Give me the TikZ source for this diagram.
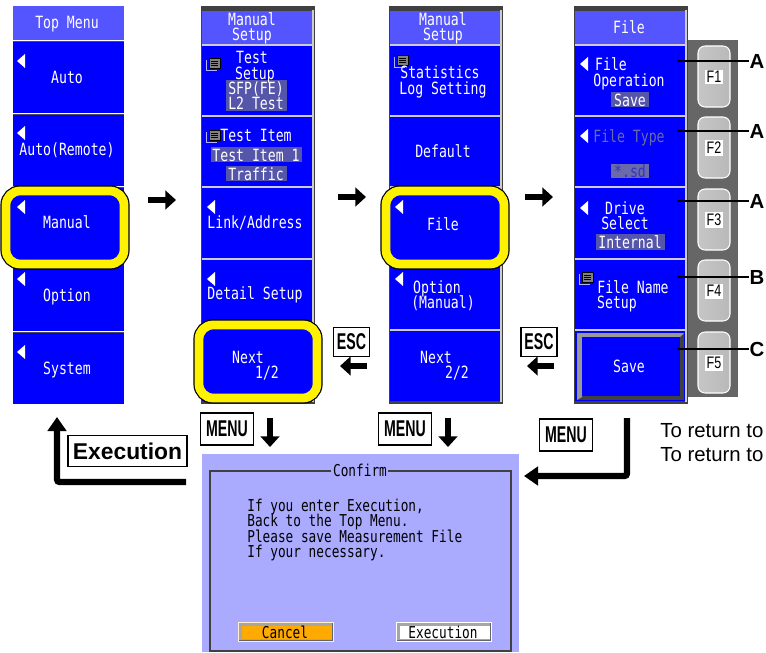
\documentclass[tikz,border=0pt]{standalone}
\usepackage{fontspec}
\usepackage{xcolor}
\usetikzlibrary{arrows.meta}
\newfontfamily\scrfont[FakeStretch=0.78]{DejaVu Sans Mono}
\newfontfamily\keyfont[FakeStretch=0.62]{Liberation Sans}
\newfontfamily\fkeyfont[FakeStretch=0.75]{Liberation Sans}
\setmainfont{Liberation Sans}
\definecolor{scrblue}{HTML}{0000FF}
\definecolor{scrtitle}{HTML}{5555FF}
\definecolor{scrvalue}{HTML}{5555AA}
\definecolor{scrdim}{HTML}{6A6AA8}
\definecolor{dlgback}{HTML}{AAAAFF}
\definecolor{keystrip}{HTML}{666666}
\definecolor{dlgorange}{HTML}{FFAA00}
\tikzset{
  scrtxt/.style={font=\scrfont\fontsize{9.6}{10}\selectfont, text=white, inner sep=0pt, text height=7pt, text depth=0pt},
  dlgtxt/.style={scrtxt, text=black, font=\scrfont\fontsize{9.3}{10}\selectfont},
  hilite/.style={rounded corners=8pt, draw=yellow, fill=scrblue, line width=5pt,
    preaction={draw=black, line width=6.4pt}},
  flowarrow/.style={line width=3.4pt, -{Triangle[length=6pt,width=10.5pt]}},
  longarrow/.style={line width=3.6pt, rounded corners=1.5pt, -{Triangle[length=8pt,width=10.5pt]}},
  keybox/.style={draw, line width=0.9pt, fill=white, inner sep=0pt, font=\keyfont\bfseries\fontsize{13}{13}\selectfont},
  tagtxt/.style={font=\bfseries\fontsize{11.6}{12}\selectfont, inner sep=0pt},
}
\newcommand{\menutri}[2]{\fill[white, shift={(#1,#2)}] (0,0) -- (8,-7) -- (8,7) -- cycle;}
\newcommand{\docicon}[2]{%
  \draw[white!70!scrblue, shift={(#1,#2)}, line width=0.5pt] (-7,-3) -- (-7,7) -- (4,7);
  \draw[fill=gray, draw=black, shift={(#1,#2)}, line width=0.5pt] (-4,-5) rectangle (7,5);
  \draw[black, shift={(#1,#2)}, line width=0.3pt] (-2,-2) -- (5,-2) (-2,0) -- (5,0) (-2,2) -- (5,2);
}
\begin{document}
\begin{tikzpicture}[x=0.02cm,y=-0.02cm]
  \path[use as bounding box, clip] (0,0) rectangle (766,652);
  \fill[white] (0,0) rectangle (766,652);

  % first menu
  \fill[scrtitle] (13,6) rectangle (124,40);
  \foreach \ya/\yb in {42/113,115/186,188/259,261/331,333/404}
    \fill[scrblue] (13,\ya) rectangle (124,\yb);
  \draw[black!70, line width=0.5pt] (13,41) -- (124,41) (13,114) -- (124,114) (13,187) -- (124,187) (13,260) -- (124,260) (13,332) -- (124,332);

  % three framed menus and the key strip
  \fill[keystrip] (688,40) rectangle (738,397);
  \foreach \xa in {201,389,574} {
    \fill[black!75] (\xa,6) rectangle (\xa+114,404);
    \fill[scrtitle] (\xa+1,11) rectangle (\xa+111,44);
    \foreach \ya/\yb in {46/115,117/186,188/258,260/329,331/401}
      \fill[scrblue] (\xa+1,\ya) rectangle (\xa+111,\yb);
    \draw[white!60!gray, line width=0.6pt] (\xa+112,10) -- (\xa+112,402);
    \foreach \ya in {45,116,187,259,330}
      \draw[white!60!gray, line width=0.6pt] (\xa+1,\ya) -- (\xa+111,\ya);
  }
  \fill[black!75] (577,333) rectangle (684,400);
  \fill[gray!80] (577,333) -- (684,333) -- (680,337) -- (582,337) -- (582,397) -- (577,400) -- cycle;
  \fill[scrblue] (582,337) rectangle (680,396);

  % function keys
  \foreach \ya/\lab [count=\i] in {46/F1,117/F2,189/F3,260/F4,332/F5} {
    \shade[left color=gray!45, middle color=white!95!gray, right color=gray!55, draw=white, rounded corners=4pt, line width=0.6pt]
      (698,\ya) rectangle (730,\ya+61);
    \node[fill=white, inner sep=1pt, font=\fkeyfont\fontsize{9.5}{10}\selectfont] (fkey\i) at (714,\ya+31) {\lab};
  }

  % highlighted softkeys
  \draw[hilite] (6,191) rectangle (124,264);
  \draw[hilite] (199,325) rectangle (317,398);
  \draw[hilite] (386,191) rectangle (504,264);

  \foreach \xa/\ya in {17/61,17/133,17/207,17/279,17/352,207/207,207/279,395/207,395/279,580/64,580/136,580/208} {
    \menutri{\xa}{\ya}
  }

  % first menu texts
  \foreach \yy/\lab [count=\i] in {22/Top Menu,77/Auto,149/Auto(Remote),222/Manual,295/Option,368/System}
    \node[scrtxt] (topm\i) at (67,\yy) {\lab};

  % second menu texts
  \fill[scrvalue] (226,80) rectangle (287,111);
  \fill[scrvalue] (211,147) rectangle (302,162);
  \fill[scrvalue] (226,166) rectangle (287,181);
  \docicon{213}{63}
  \docicon{213}{135}
  \foreach \xx/\yy/\lab [count=\i] in {252/19/Manual,252/34/Setup,252/57/Test,255/73/Setup,256/88/SFP(FE),256/103/L2 Test,
      256/135/Test Item,256/155/Test Item 1,256/174/Traffic,255/222/Link\slash Address,255/293/Detail Setup,248/357/Next,267/372/1\slash 2}
    \node[scrtxt] (manm\i) at (\xx,\yy) {\lab};

  % third menu texts
  \docicon{401}{60}
  \foreach \xx/\yy/\lab [count=\i] in {443/19/Manual,443/34/Setup,440/72/Statistics,443/88/Log Setting,443/151/Default,443/224/File,
      437/287/Option,443/302/(Manual),436/357/Next,457/372/2\slash 2}
    \node[scrtxt] (setm\i) at (\xx,\yy) {\lab};

  % file menu texts
  \fill[scrvalue] (611,92) rectangle (649,107);
  \fill[scrdim] (611,164) rectangle (649,178);
  \fill[scrvalue] (596,234) rectangle (665,250);
  \docicon{586}{277}
  \foreach \xx/\yy/\lab [count=\i] in {629/27/File,611/64/File,629/80/Operation,630/100/Save,625/208/Drive,625/223/Select,
      630/242/Internal,633/287/File Name,617/302/Setup,629/366/Save}
    \node[scrtxt] (film\i) at (\xx,\yy) {\lab};
  \node[scrtxt, text=scrdim] (filetype) at (629,136) {File Type};
  \node[scrtxt, text=scrblue!60!gray] (filesd) at (630,171) {*.sd};

  % letters to the softkeys
  \foreach \yy/\lab [count=\i] in {61/A,131/A,201/A,277/B,349/C} {
    \node[tagtxt] (tag\i) at (757,\yy) {\lab};
    \coordinate (tagend\i) at (677,\yy);
    \draw[white, line width=1.4pt] (tagend\i) -- (688,\yy);
    \draw[line width=0.8pt] (tagend\i) -- (tag\i);
  }

  % steps between the menus
  \coordinate (stepa) at (148,200);
  \coordinate (stepb) at (176,200);
  \coordinate (stepc) at (338,197);
  \coordinate (stepd) at (366,197);
  \coordinate (stepe) at (525,197);
  \coordinate (stepf) at (553,197);
  \draw[flowarrow] (stepa) -- (stepb);
  \draw[flowarrow] (stepc) -- (stepd);
  \draw[flowarrow] (stepe) -- (stepf);

  \node[keybox, minimum width=0.72cm, minimum height=0.58cm] (esca) at (351.5,342) {ESC};
  \node[keybox, minimum width=0.72cm, minimum height=0.58cm] (escb) at (539,342) {ESC};
  \coordinate (backa) at (367,366);
  \coordinate (backb) at (340,366);
  \coordinate (backc) at (554,366);
  \coordinate (backd) at (527,366);
  \draw[flowarrow] (backa) -- (backb);
  \draw[flowarrow] (backc) -- (backd);

  % confirm screen
  \fill[dlgback] (202,454) rectangle (519,652);
  \draw[black!75, line width=0.8pt] (331,471) -- (210,471) -- (210,651) -- (511,651) -- (511,471) -- (388,471);
  \node[dlgtxt] (dlgname) at (360,470) {Confirm};
  \foreach \yy/\lab [count=\i] in {505/{If you enter Execution,},520/Back to the Top Menu.,536/Please save Measurement File,551/If your necessary.}
    \node[dlgtxt, anchor=west] (dlgline\i) at (247,\yy) {\lab};
  \fill[white!80!dlgorange] (238,622) rectangle (334,642);
  \fill[black!60] (239,623) rectangle (333,641);
  \fill[gray!70] (239,623) rectangle (332,640);
  \fill[dlgorange] (242,626) rectangle (332,639);
  \node[dlgtxt] (cancelbtn) at (285,632) {Cancel};
  \fill[white] (396,622) rectangle (492,642);
  \fill[black!60] (397,623) rectangle (491,641);
  \fill[gray!70] (397,623) rectangle (490,640);
  \fill[white] (400,626) rectangle (490,639);
  \node[dlgtxt] (execbtn) at (443,632) {Execution};

  % ways to and from the confirm screen
  \node[keybox, minimum width=1.06cm, minimum height=0.64cm] (menua) at (227,429) {MENU};
  \node[keybox, minimum width=1.06cm, minimum height=0.64cm] (menub) at (405,429) {MENU};
  \node[keybox, minimum width=1.06cm, minimum height=0.64cm] (menuc) at (566,435) {MENU};
  \coordinate (downa) at (270,418);
  \coordinate (downb) at (270,447);
  \coordinate (downc) at (448,418);
  \coordinate (downd) at (448,447);
  \draw[flowarrow] (downa) -- (downb);
  \draw[flowarrow] (downc) -- (downd);
  \coordinate (filedown) at (627,418);
  \coordinate (dlgin) at (524,476);
  \draw[longarrow] (filedown) |- (dlgin);
  \coordinate (dlgout) at (186,482);
  \coordinate (topback) at (57,417);
  \draw[longarrow] (dlgout) -| (topback);
  \node[draw, line width=0.9pt, fill=white, inner sep=0pt, minimum width=2.38cm, minimum height=0.62cm, font=\bfseries\fontsize{13}{13}\selectfont] (execkey) at (127.5,451) {Execution};

  % cut-off note at the right edge
  \node[anchor=west, inner sep=0pt, font=\fontsize{11.6}{12}\selectfont] (notea) at (660,431) {To return to};
  \node[anchor=west, inner sep=0pt, font=\fontsize{11.6}{12}\selectfont] (noteb) at (660,455) {To return to};
\end{tikzpicture}
\end{document}
